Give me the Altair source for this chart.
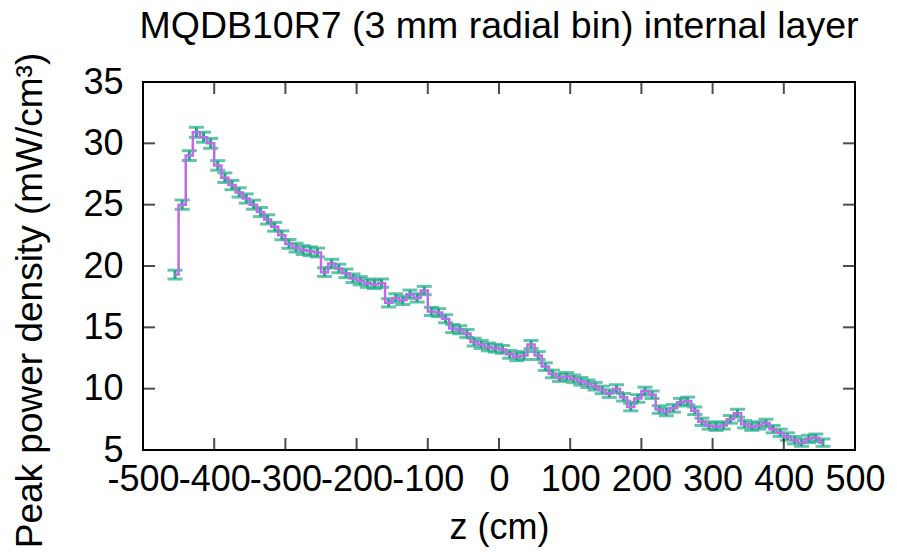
import altair as alt
import pandas as pd

# ---- data ----
z_cm = [-455, -445, -435, -425, -415, -405, -395, -385, -375, -365,
        -355, -345, -335, -325, -315, -305, -295, -285, -275, -265,
        -255, -245, -235, -225, -215, -205, -195, -185, -175, -165,
        -155, -145, -135, -125, -115, -105, -95, -85, -75, -65,
        -55, -45, -35, -25, -15, -5, 5, 15, 25, 35,
        45, 55, 65, 75, 85, 95, 105, 115, 125, 135,
        145, 155, 165, 175, 185, 195, 205, 215, 225, 235,
        245, 255, 265, 275, 285, 295, 305, 315, 325, 335,
        345, 355, 365, 375, 385, 395, 405, 415, 425, 435,
        445, 455]

power = [19.3, 25.0, 29.0, 30.9, 30.5, 30.0, 28.2, 27.2, 26.6, 26.0,
         25.5, 25.0, 24.4, 23.8, 23.2, 22.5, 21.8, 21.5, 21.3, 21.2,
         21.1, 19.5, 20.2, 19.8, 19.4, 19.0, 18.8, 18.6, 18.5, 18.6,
         17.0, 17.4, 17.2, 17.7, 17.4, 18.0, 16.3, 16.2, 15.7, 14.9,
         14.8, 14.5, 13.8, 13.6, 13.4, 13.3, 13.2, 12.8, 12.6, 12.7,
         13.6, 12.7, 11.8, 11.2, 10.9, 11.0, 10.8, 10.6, 10.4, 10.2,
         9.9, 9.6, 10.0, 9.3, 8.5, 9.2, 9.8, 9.5, 8.3, 8.1,
         8.4, 8.9, 9.0, 8.2, 7.3, 7.0, 6.9, 7.0, 7.5, 8.0,
         7.1, 6.9, 7.0, 7.2, 6.7, 6.4, 6.1, 5.8, 5.6, 5.9,
         6.0, 5.6]

errors = [0.36, 0.38, 0.40, 0.41, 0.41, 0.40, 0.39, 0.39, 0.38, 0.38,
          0.38, 0.37, 0.37, 0.37, 0.36, 0.36, 0.36, 0.36, 0.36, 0.36,
          0.36, 0.35, 0.35, 0.35, 0.35, 0.35, 0.34, 0.34, 0.34, 0.34,
          0.34, 0.34, 0.34, 0.34, 0.34, 0.34, 0.33, 0.33, 0.33, 0.33,
          0.33, 0.33, 0.32, 0.32, 0.32, 0.32, 0.32, 0.32, 0.32, 0.32,
          0.33, 0.32, 0.31, 0.31, 0.31, 0.31, 0.31, 0.31, 0.31, 0.31,
          0.31, 0.31, 0.32, 0.31, 0.31, 0.31, 0.32, 0.31, 0.31, 0.31,
          0.31, 0.31, 0.31, 0.31, 0.30, 0.30, 0.30, 0.30, 0.31, 0.32,
          0.30, 0.30, 0.30, 0.31, 0.30, 0.30, 0.30, 0.30, 0.30, 0.30,
          0.30, 0.30]

x_ticks = [-500, -400, -300, -200, -100, 0, 100, 200, 300, 400, 500]
y_ticks = [5, 10, 15, 20, 25, 30, 35]

TITLE = "MQDB10R7 (3 mm radial bin) internal layer"
X_TITLE = "z (cm)"
Y_TITLE = "Peak power density (mW/cm\u00b3)"

PURPLE = "#bd6be8"
TEAL = "#22a98a"
FONT = "Liberation Sans"
FS = 36
W, H = 712, 368
TICK = 12
TICK_COLOR = "black"

df = pd.DataFrame({"z": z_cm, "p": power, "err": errors})
df["lo"] = df["p"] - df["err"]
df["hi"] = df["p"] + df["err"]
xt = pd.DataFrame({"tz": x_ticks})
yt = pd.DataFrame({"tp": y_ticks})

xs = alt.Scale(domain=[-500, 500], nice=False, zero=False)
ys = alt.Scale(domain=[5, 35], nice=False, zero=False)

x_axis = alt.Axis(values=x_ticks, labelExpr="'' + datum.value",
                  title=X_TITLE, ticks=False, tickSize=0, labelPadding=12,
                  labelFont=FONT, labelFontSize=FS, labelColor="black",
                  titleFont=FONT, titleFontSize=FS, titleFontWeight="normal",
                  titleColor="black", titleY=77, titleBaseline="middle",
                  labelOverlap=False, labelFlush=False, labelBound=False,
                  domain=False, grid=False)
y_axis = alt.Axis(values=y_ticks, title=Y_TITLE, ticks=False, tickSize=0,
                  labelPadding=20, labelFont=FONT, labelFontSize=FS, labelColor="black",
                  labelBaseline="middle",
                  titleFont=FONT, titleFontSize=37, titleFontWeight="normal",
                  titleColor="black", titleX=-113, titleY=218, titleBaseline="middle",
                  titleAngle=270, labelOverlap=False, labelFlush=False,
                  domain=False, grid=False)

bars = alt.Chart(df).mark_rule(color=TEAL, strokeWidth=3).encode(
    x=alt.X("z:Q", scale=xs, axis=x_axis),
    y=alt.Y("lo:Q", scale=ys, axis=y_axis),
    y2="hi:Q",
)
caps_lo = alt.Chart(df).mark_tick(color=TEAL, orient="horizontal", size=15, thickness=3).encode(
    x=alt.X("z:Q", scale=xs),
    y=alt.Y("lo:Q", scale=ys),
)
caps_hi = alt.Chart(df).mark_tick(color=TEAL, orient="horizontal", size=15, thickness=3).encode(
    x=alt.X("z:Q", scale=xs),
    y=alt.Y("hi:Q", scale=ys),
)
line = alt.Chart(df).mark_line(color=PURPLE, strokeWidth=2.5, interpolate="step").encode(
    x=alt.X("z:Q", scale=xs),
    y=alt.Y("p:Q", scale=ys),
)

# inward (mirrored) tick marks, gnuplot style
xt_bottom = alt.Chart(xt).mark_tick(color=TICK_COLOR, orient="vertical", size=TICK, thickness=2).encode(
    x=alt.X("tz:Q", scale=xs), y=alt.value(H - TICK / 2))
xt_top = alt.Chart(xt).mark_tick(color=TICK_COLOR, orient="vertical", size=TICK, thickness=2).encode(
    x=alt.X("tz:Q", scale=xs), y=alt.value(TICK / 2))
yt_left = alt.Chart(yt).mark_tick(color=TICK_COLOR, orient="horizontal", size=TICK, thickness=2).encode(
    y=alt.Y("tp:Q", scale=ys), x=alt.value(TICK / 2))
yt_right = alt.Chart(yt).mark_tick(color=TICK_COLOR, orient="horizontal", size=TICK, thickness=2).encode(
    y=alt.Y("tp:Q", scale=ys), x=alt.value(W - TICK / 2))

chart = alt.layer(bars, caps_lo, caps_hi, line, xt_bottom, xt_top, yt_left, yt_right).properties(
    width=W, height=H,
    autosize=alt.AutoSizeParams(type="none"),
    padding={"left": 143, "top": 82, "right": 42, "bottom": 107},
    title=alt.TitleParams(TITLE, font=FONT, fontSize=37.5, fontWeight="normal",
                          color="black", anchor="middle", frame="group",
                          baseline="bottom", offset=14, dy=45),
    background="white",
).configure_view(stroke="black", strokeWidth=2)

chart.save("out.html", embed_options={"renderer": "svg", "actions": False})
